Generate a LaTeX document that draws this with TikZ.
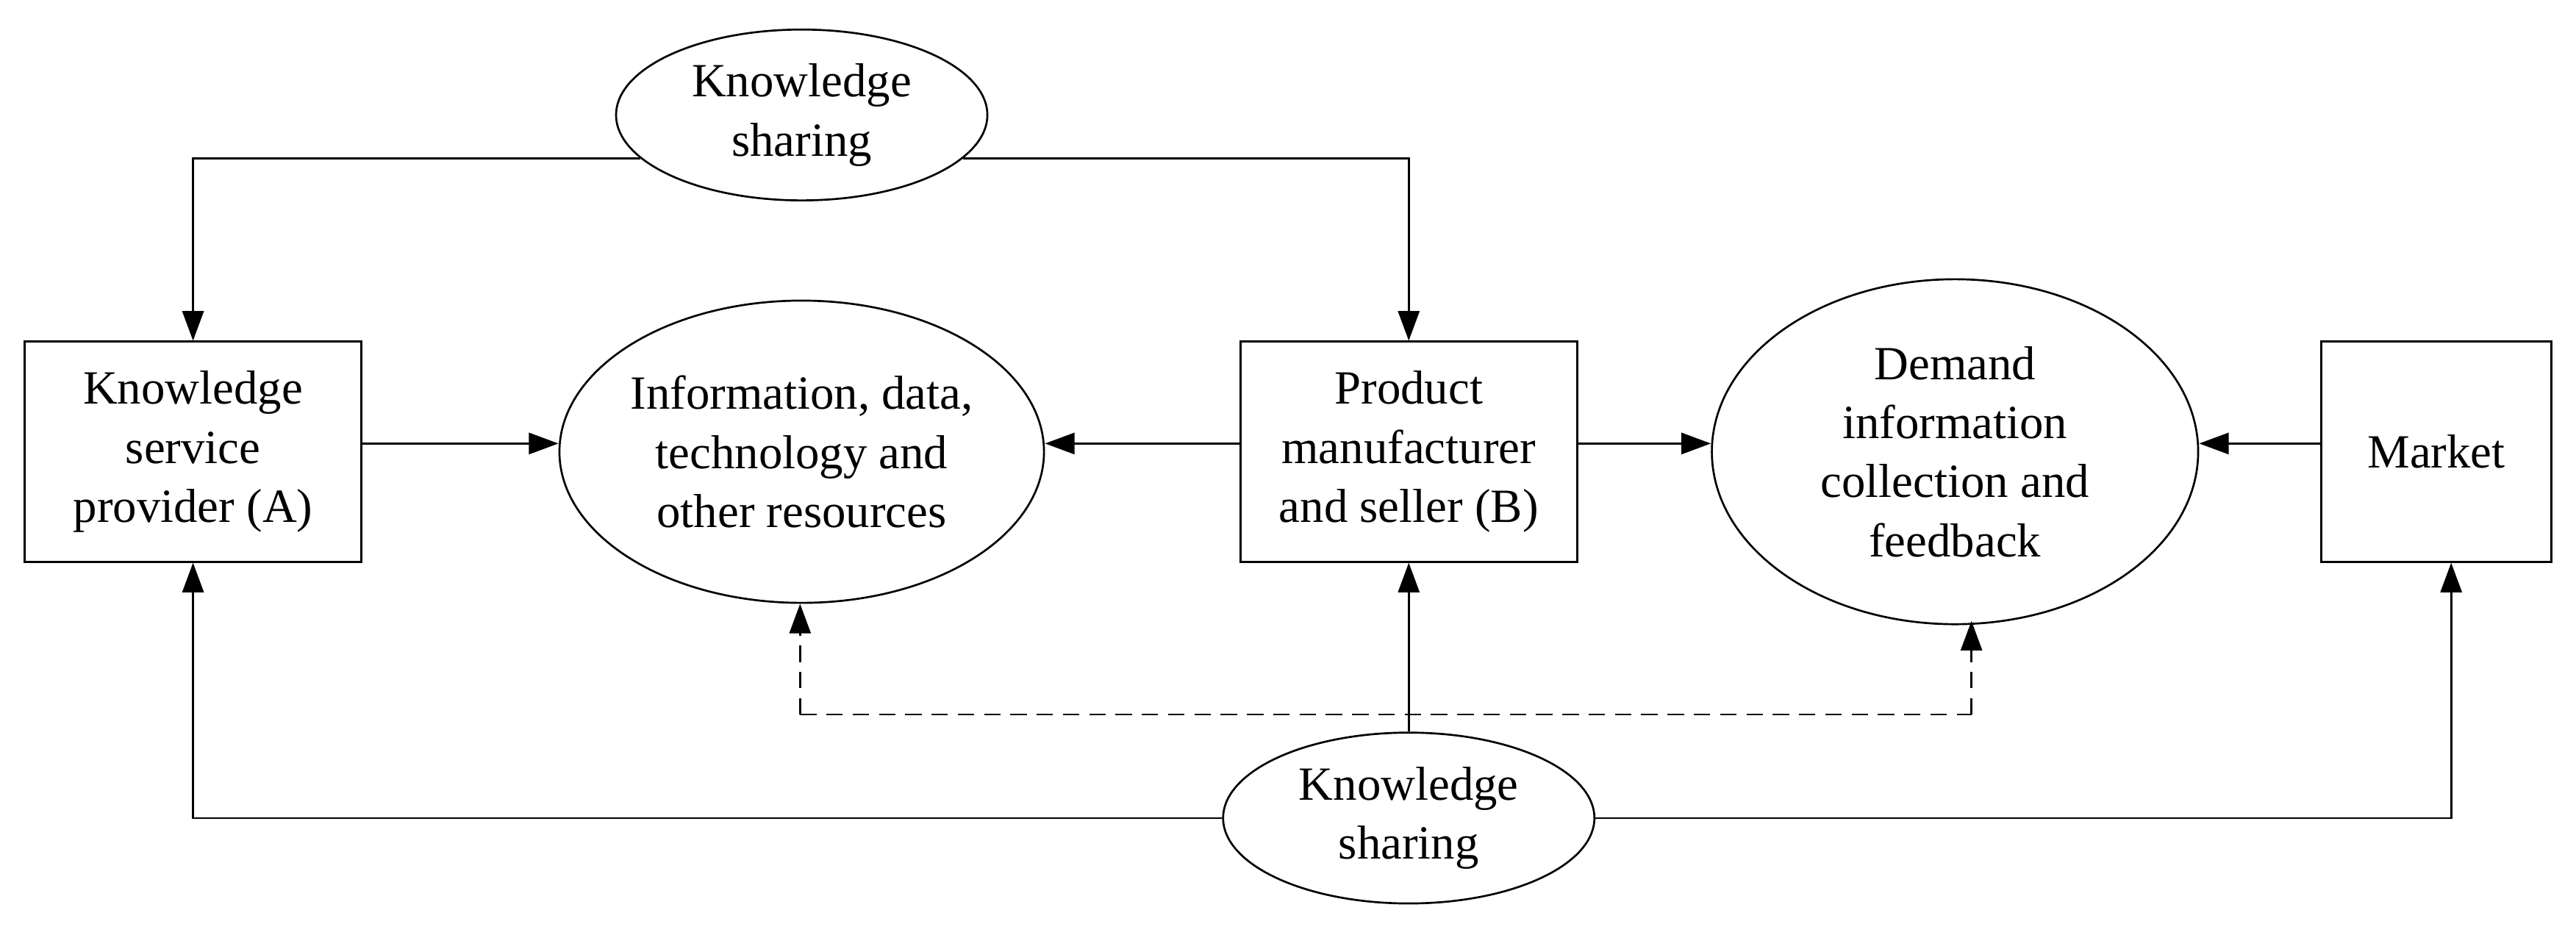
\documentclass[tikz,border=0pt]{standalone}
\usepackage{fontspec}
\setmainfont{Liberation Serif}
\usetikzlibrary{shapes.geometric,arrows.meta}
\begin{document}
\begin{tikzpicture}[x=1pt,y=1pt,yscale=-1,
  every node/.style={font=\fontsize{29}{36}\selectfont, align=center},
  box/.style={draw, line width=1.2pt, minimum height=134pt, inner sep=2pt},
  oval/.style={draw, ellipse, line width=1.2pt, inner sep=0pt},
  link/.style={line width=1.2pt, -{Triangle[length=18pt,width=13pt]}}]

\useasboundingbox (0,0) rectangle (1568,569);

% boxes
\node [box, minimum width=205pt] (prov) at (117.5,275) {Knowledge\\service\\provider (A)};
\node [box, minimum width=205pt] (manu) at (857.5,275) {Product\\manufacturer\\and seller (B)};
\node [box, minimum width=140pt] (mark) at (1483,275) {Market};

% ellipses
\node [oval, minimum width=226pt, minimum height=104pt] (topks) at (488,70) {Knowledge\\sharing};
\node [oval, minimum width=290pt, minimum height=184pt] (info) at (488,275) {Information, data,\\technology and\\other resources};
\node [oval, minimum width=296pt, minimum height=210pt] (dem) at (1190,275) {Demand\\information\\collection and\\feedback};
\node [oval, minimum width=226pt, minimum height=104pt] (botks) at (857.5,498) {Knowledge\\sharing};

% top sharing
\draw [link] (topks.195) -| (prov.north);
\draw [link] (topks.-15) -| (manu.north);

% resources and demand
\draw [link] (prov.east |- 0,270) -- (info.west |- 0,270);
\draw [link] (manu.west |- 0,270) -- (info.east |- 0,270);
\draw [link] (manu.east |- 0,270) -- (dem.west |- 0,270);
\draw [link] (mark.west |- 0,270) -- (dem.east |- 0,270);

% bottom sharing
\draw [link] (botks.west) -| (prov.south);
\draw [link] (botks.east) -| (mark.south -| 1492,0);
\draw [link] (botks.north) -- (manu.south);

% dashed feedback
\coordinate (dl) at (487,435);
\coordinate (dr) at (1200,435);
\draw [line width=1.2pt, dash pattern=on 10pt off 6pt] (dl) -- (dr);
\draw [link, dash pattern=on 10pt off 6pt] (dl) -- (info.south -| dl);
\draw [link, dash pattern=on 10pt off 6pt] (dr) -- (1200,378);
\end{tikzpicture}
\end{document}
